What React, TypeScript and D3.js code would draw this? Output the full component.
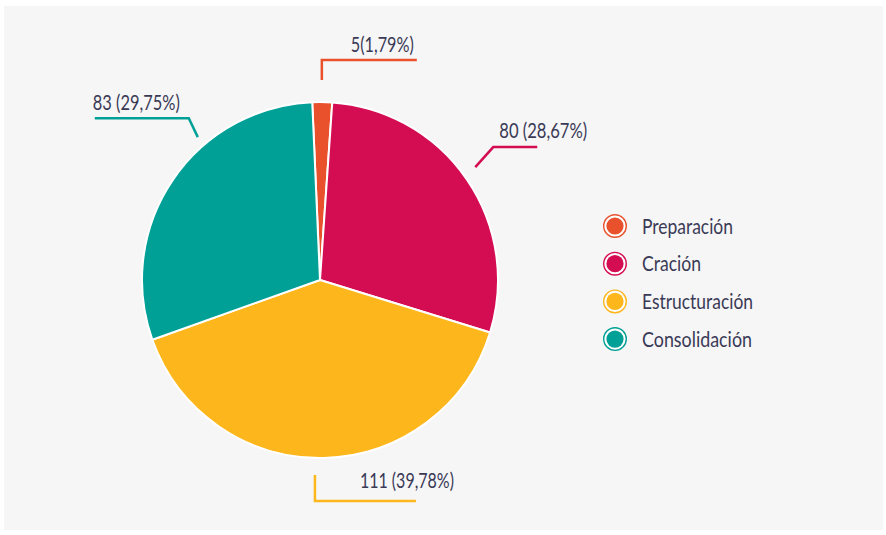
import React from "react";
import * as d3 from "d3";

const categories = ["Preparación", "Cración", "Estructuración", "Consolidación"];
const values = [5, 80, 111, 83];
const labelSeparators = ["", " ", " ", " "];
const colors = ["#E9512D", "#D40D52", "#FDB61B", "#00A096"];

// layout / styling (not data)
const W = 886;
const H = 535;
const CX = 320;
const CY = 280;
const R = 178;
const START = (-2.5 * Math.PI) / 180;
const TEXT = "#3a3a56";
const FONT = "Lato, 'Open Sans', sans-serif";
const labelWidths = [63, 88, 94, 87];
const legendWidths = [91, 59, 111, 110];

type Leader = {
  angleAdj: number; rOff: number; elbow: [number, number]; run: number;
  anchor: "start" | "end"; tx: "elbow" | "end"; tdx: number; tdy: number;
};
const leaders: Leader[] = [
  { angleAdj: -0.2, rOff: 22, elbow: [0, -20], run: 95, anchor: "end", tx: "end", tdx: -3, tdy: -8 },
  { angleAdj: -1.6, rOff: 14, elbow: [18, -20], run: 44, anchor: "start", tx: "elbow", tdx: 6, tdy: -9 },
  { angleAdj: 2.7, rOff: 17, elbow: [0, 26], run: 101, anchor: "end", tx: "end", tdx: 38, tdy: -13 },
  { angleAdj: 15.5, rOff: 10, elbow: [-9, -19], run: -94, anchor: "start", tx: "end", tdx: -2, tdy: -8 },
];

export default function App() {
  const total = d3.sum(values);
  const pie = d3
    .pie<number>()
    .sort(null)
    .startAngle(START)
    .endAngle(START + 2 * Math.PI)(values);
  const arc = d3.arc<d3.PieArcDatum<number>>().innerRadius(0).outerRadius(R);
  const labels = values.map(
    (v, i) => `${v}${labelSeparators[i]}(${((v / total) * 100).toFixed(2).replace(".", ",")}%)`
  );

  return (
    <svg width={W} height={H} style={{ position: "absolute", left: 0, top: 0 }} fontFamily={FONT}>
      <rect x={0} y={0} width={W} height={H} fill="#ffffff" />
      <rect x={4} y={6} width={879} height={524} fill="#f6f6f6" />
      <g transform={`translate(${CX},${CY})`}>
        {pie.map((d, i) => (
          <path key={i} d={arc(d) || ""} fill={colors[i]} stroke="#ffffff" strokeWidth={2} strokeLinejoin="round" />
        ))}
      </g>
      {pie.map((d, i) => {
        const L = leaders[i];
        const a = (d.startAngle + d.endAngle) / 2 + (L.angleAdj * Math.PI) / 180;
        const rr = R + L.rOff;
        const sx = CX + rr * Math.sin(a);
        const sy = CY - rr * Math.cos(a);
        const ex = sx + L.elbow[0];
        const ey = sy + L.elbow[1];
        const hx = ex + L.run;
        const tx = (L.tx === "elbow" ? ex : hx) + L.tdx;
        const ty = ey + L.tdy;
        return (
          <g key={i}>
            <polyline
              points={`${sx},${sy} ${ex},${ey} ${hx},${ey}`}
              fill="none"
              stroke={colors[i]}
              strokeWidth={2.5}
            />
            <text
              x={tx}
              y={ty}
              textAnchor={L.anchor}
              fontSize={21}
              fill={TEXT}
              textLength={labelWidths[i]}
              lengthAdjust="spacingAndGlyphs"
            >
              {labels[i]}
            </text>
          </g>
        );
      })}
      {categories.map((c, i) => {
        const cy = 226 + i * 37.7;
        return (
          <g key={c}>
            <circle cx={615} cy={cy} r={11.3} fill="#ffffff" stroke={colors[i]} strokeWidth={1.4} />
            <circle cx={615} cy={cy} r={8.6} fill={colors[i]} />
            <text
              x={642}
              y={cy + 7.5}
              fontSize={21}
              fill={TEXT}
              textLength={legendWidths[i]}
              lengthAdjust="spacingAndGlyphs"
            >
              {c}
            </text>
          </g>
        );
      })}
    </svg>
  );
}
